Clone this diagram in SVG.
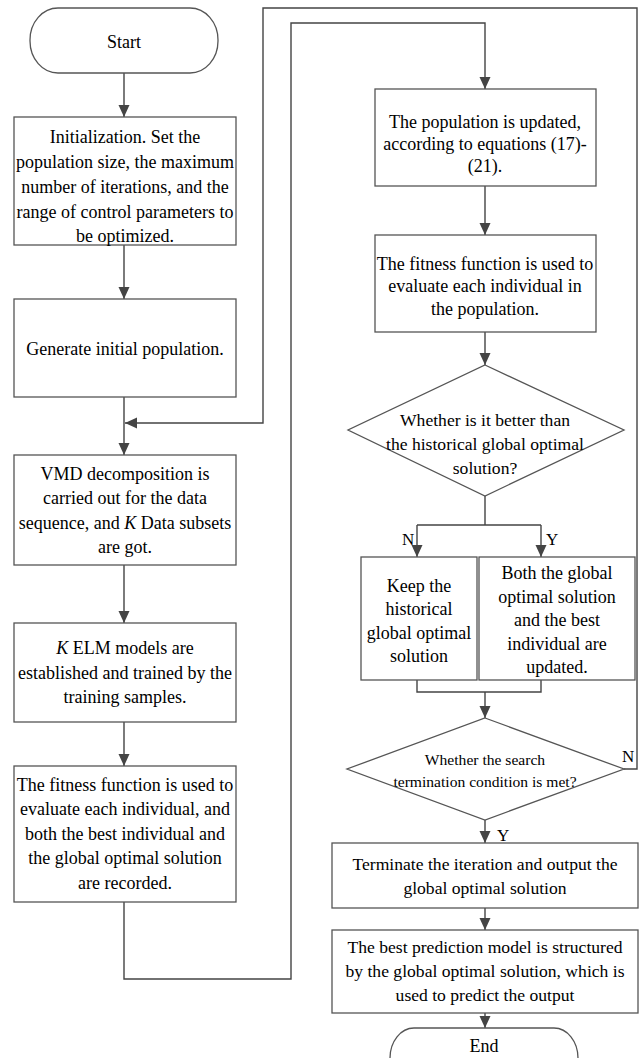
<svg xmlns="http://www.w3.org/2000/svg" width="644" height="1058" viewBox="0 0 644 1058">
<style>
.box{fill:#fff;stroke:#555;stroke-width:1.3}
.t{font-size:18px;fill:#000;text-anchor:middle}
.m{font-size:17.6px}
.s{font-size:15.6px}
.c{fill:none;stroke:#444;stroke-width:1.4}
.lbl{font-size:17px;fill:#000}
</style>
<defs>
<marker id="ah" markerUnits="userSpaceOnUse" markerWidth="12" markerHeight="13" viewBox="0 0 12 13" refX="12" refY="6.5" orient="auto">
<path d="M0,1 L12,6.5 L0,12 Z" fill="#444"/>
</marker>
</defs>
<rect width="644" height="1058" fill="#fff"/>
<g font-family="Liberation Serif, serif">
<g id="connectors">
<path class="c" d="M124 73 V117" marker-end="url(#ah)"/>
<path class="c" d="M124 245 V299" marker-end="url(#ah)"/>
<path class="c" d="M124 397 V455" marker-end="url(#ah)"/>
<path class="c" d="M624 769 H637 V8 H263 V423 H125" marker-end="url(#ah)"/>
<path class="c" d="M124 565 V623" marker-end="url(#ah)"/>
<path class="c" d="M124 722 V766" marker-end="url(#ah)"/>
<path class="c" d="M124 902 V979 H291 V23 H485 V89" marker-end="url(#ah)"/>
<path class="c" d="M485 186 V235" marker-end="url(#ah)"/>
<path class="c" d="M485 332 V365" marker-end="url(#ah)"/>
<path class="c" d="M485 496 V525 M417 525 H541"/>
<path class="c" d="M417 525 V557" marker-end="url(#ah)"/>
<path class="c" d="M541 525 V557" marker-end="url(#ah)"/>
<path class="c" d="M417 680 V692 H541 V680"/>
<path class="c" d="M485 692 V718" marker-end="url(#ah)"/>
<path class="c" d="M485 820 V843" marker-end="url(#ah)"/>
<path class="c" d="M485 908 V930" marker-end="url(#ah)"/>
<path class="c" d="M485 1013 V1028" marker-end="url(#ah)"/>
<text class="lbl" x="402" y="545">N</text>
<text class="lbl" x="546" y="545">Y</text>
<text class="lbl" x="622" y="762">N</text>
<text class="lbl" x="497" y="841">Y</text>
</g>
<g id="start">
<rect class="box" x="30" y="8" width="188" height="65" rx="28" ry="32"/>
<text class="t" x="124" y="48">Start</text>
</g>
<g id="init">
<rect class="box" x="14" y="117" width="222" height="128"/>
<text class="t" x="125" y="143">Initialization. Set the</text>
<text class="t" x="125" y="168">population size, the maximum</text>
<text class="t" x="125" y="193">number of iterations, and the</text>
<text class="t" x="125" y="218">range of control parameters to</text>
<text class="t" x="125" y="242">be optimized.</text>
</g>
<g id="generate">
<rect class="box" x="14" y="299" width="222" height="98"/>
<text class="t" x="125" y="355">Generate initial population.</text>
</g>
<g id="vmd">
<rect class="box" x="14" y="455" width="222" height="110"/>
<text class="t" x="125" y="480">VMD decomposition is</text>
<text class="t" x="125" y="504">carried out for the data</text>
<text class="t" x="125" y="529">sequence, and <tspan font-style="italic">K</tspan> Data subsets</text>
<text class="t" x="125" y="553">are got.</text>
</g>
<g id="elm">
<rect class="box" x="14" y="623" width="222" height="99"/>
<text class="t" x="125" y="654"><tspan font-style="italic">K</tspan> ELM models are</text>
<text class="t" x="125" y="679">established and trained by the</text>
<text class="t" x="125" y="703">training samples.</text>
</g>
<g id="fitness1">
<rect class="box" x="14" y="766" width="222" height="136"/>
<text class="t" x="125" y="791">The fitness function is used to</text>
<text class="t" x="125" y="815">evaluate each individual, and</text>
<text class="t" x="125" y="840">both the best individual and</text>
<text class="t" x="125" y="864">the global optimal solution</text>
<text class="t" x="125" y="889">are recorded.</text>
</g>
<g id="update">
<rect class="box" x="375" y="89" width="221" height="97"/>
<text class="t" x="485" y="128">The population is updated,</text>
<text class="t" x="485" y="150">according to equations (17)-</text>
<text class="t" x="485" y="172">(21).</text>
</g>
<g id="fitness2">
<rect class="box" x="375" y="235" width="221" height="97"/>
<text class="t" x="485" y="270">The fitness function is used to</text>
<text class="t" x="485" y="292">evaluate each individual in</text>
<text class="t" x="485" y="315">the population.</text>
</g>
<g id="decision1">
<polygon class="box" points="485,365 624,430 485,496 348,430"/>
<text class="t m" x="485" y="426">Whether is it better than</text>
<text class="t m" x="485" y="450">the historical global optimal</text>
<text class="t m" x="485" y="474">solution?</text>
</g>
<g id="keep">
<rect class="box" x="361" y="557" width="116" height="123"/>
<text class="t" x="419" y="592">Keep the</text>
<text class="t" x="419" y="615">historical</text>
<text class="t" x="419" y="639">global optimal</text>
<text class="t" x="419" y="662">solution</text>
</g>
<g id="both">
<rect class="box" x="479" y="557" width="156" height="123"/>
<text class="t" x="557" y="579">Both the global</text>
<text class="t" x="557" y="603">optimal solution</text>
<text class="t" x="557" y="626">and the best</text>
<text class="t" x="557" y="650">individual are</text>
<text class="t" x="557" y="673">updated.</text>
</g>
<g id="decision2">
<polygon class="box" points="485,718 624,769 485,820 347,769"/>
<text class="t s" x="485" y="765">Whether the search</text>
<text class="t s" x="485" y="787">termination condition is met?</text>
</g>
<g id="terminate">
<rect class="box" x="332" y="843" width="306" height="65"/>
<text class="t m" x="485" y="870">Terminate the iteration and output the</text>
<text class="t m" x="485" y="894">global optimal solution</text>
</g>
<g id="best">
<rect class="box" x="332" y="930" width="306" height="83"/>
<text class="t m" x="485" y="953">The best prediction model is structured</text>
<text class="t m" x="485" y="977">by the global optimal solution, which is</text>
<text class="t m" x="485" y="1001">used to predict the output</text>
</g>
<g id="end">
<rect class="box" x="390" y="1028" width="188" height="65" rx="24" ry="30"/>
<text class="t" x="484" y="1052">End</text>
</g>
</g>
</svg>
